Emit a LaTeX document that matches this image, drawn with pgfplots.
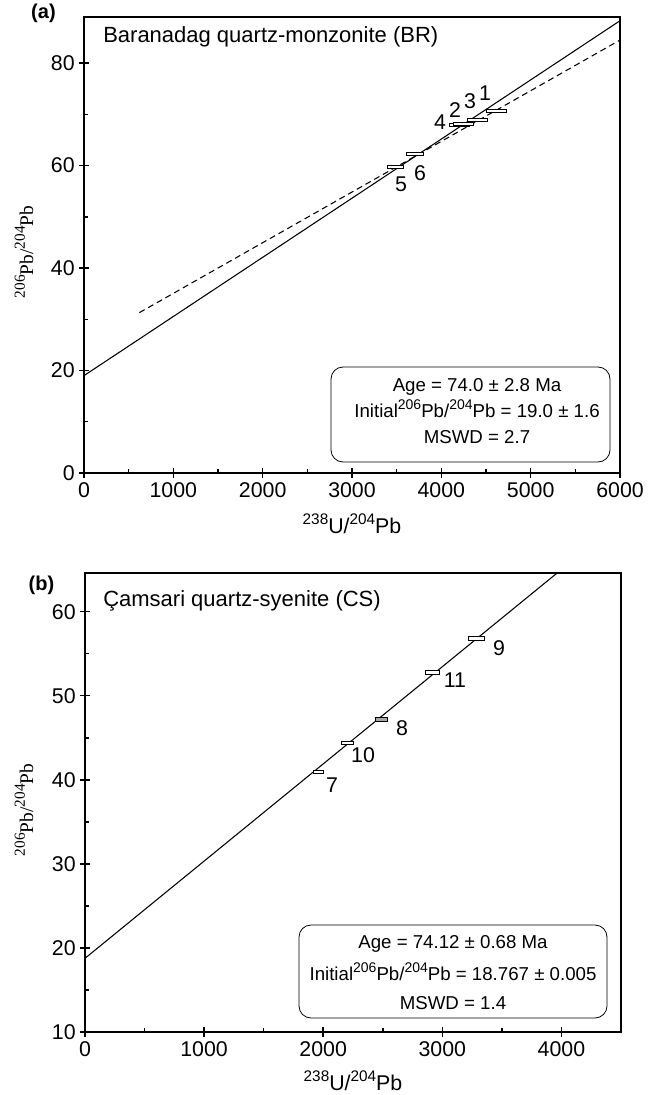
\documentclass[border=0pt]{standalone}
\usepackage{fontspec}
\setmainfont{Liberation Sans}
\newfontfamily\seriffont{Liberation Serif}
\usepackage{pgfplots}
\pgfplotsset{compat=1.18}
\tikzset{numlab/.style={font=\fontsize{16}{18}\selectfont, inner sep=0pt}}
\newcommand\sups[2]{\raisebox{0.42em}{\fontsize{#1}{#1}\selectfont #2}}
\begin{document}
\begin{tikzpicture}
\useasboundingbox (0,0) rectangle (485.25pt,-821.25pt);
\pgfplotsset{
  myaxis/.style={
    scale only axis,
    anchor=north west,
    axis line style={line width=1.5pt},
    every tick/.style={line width=1.1pt, black},
    major tick length=7pt,
    minor tick length=3pt,
    tick align=center,
    minor x tick style={yshift=1.5pt},
    minor y tick style={xshift=1.5pt},
    xtick pos=bottom, ytick pos=left,
    /pgf/number format/assume math mode=true,
    /pgf/number format/1000 sep={},
    ticklabel style={font=\fontsize{16}{18}\selectfont},
  },
  dbox/.style={draw=black, line width=0.5pt, fill=white, mark=none},
}
% ---------------- panel (a)
\begin{axis}[myaxis, at={(63pt,-12.75pt)}, width=402pt, height=342pt,
  xmin=0, xmax=6000, ymin=0, ymax=89,
  xtick={0,1000,...,6000}, ytick={0,20,...,80},
  minor x tick num=1, minor y tick num=1]
\addplot[line width=0.8pt, mark=none] coordinates {(0,19.0) (6000,88.27)};
\addplot[line width=0.8pt, mark=none, dash pattern=on 4.5pt off 3pt] coordinates {(620,31.3) (6000,84.5)};
% error boxes
\addplot[dbox] coordinates {(3391,59.5) (3571,59.5) (3571,60.1) (3391,60.1)} --cycle;
\addplot[dbox] coordinates {(3605,62.05) (3795,62.05) (3795,62.65) (3605,62.65)} --cycle;
\addplot[dbox] coordinates {(4088,67.6) (4312,67.6) (4312,68.2) (4088,68.2)} --cycle;
\addplot[dbox] coordinates {(4138,67.9) (4362,67.9) (4362,68.5) (4138,68.5)} --cycle;
\addplot[dbox] coordinates {(4287,68.7) (4511,68.7) (4511,69.3) (4287,69.3)} --cycle;
\addplot[dbox] coordinates {(4500,70.4) (4724,70.4) (4724,71.0) (4500,71.0)} --cycle;
\node[numlab] at (axis cs:4489,74.2) {1};
\node[numlab] at (axis cs:4321,72.6) {3};
\node[numlab] at (axis cs:4153,70.8) {2};
\node[numlab] at (axis cs:3985,68.5) {4};
\node[numlab] at (axis cs:3761,58.5) {6};
\node[numlab] at (axis cs:3548,56.4) {5};
\end{axis}
% ---------------- panel (b)
\begin{axis}[myaxis, at={(63.75pt,-429.75pt)}, width=402pt, height=344.25pt,
  xmin=0, xmax=4500, ymin=10, ymax=64.6,
  xtick={0,1000,...,4000}, ytick={10,20,...,60},
  minor x tick num=1, minor y tick num=1]
\addplot[line width=0.8pt, mark=none] coordinates {(0,18.767) (4500,70.80)};
\addplot[dbox] coordinates {(1914,40.75) (1998,40.75) (1998,41.15) (1914,41.15)} --cycle;
\addplot[dbox] coordinates {(2150,44.2) (2250,44.2) (2250,44.6) (2150,44.6)} --cycle;
\addplot[dbox, fill=gray!70] coordinates {(2435,47.0) (2535,47.0) (2535,47.4) (2435,47.4)} --cycle;
\addplot[dbox] coordinates {(2854,52.6) (2972,52.6) (2972,53.0) (2854,53.0)} --cycle;
\addplot[dbox] coordinates {(3216,56.65) (3350,56.65) (3350,57.05) (3216,57.05)} --cycle;
\node[numlab] at (axis cs:3476,55.7) {9};
\node[numlab] at (axis cs:3106,51.9) {11};
\node[numlab] at (axis cs:2661,46.2) {8};
\node[numlab] at (axis cs:2334,42.9) {10};
\node[numlab] at (axis cs:2074,39.4) {7};
\end{axis}
% ---------------- texts and boxes
\node[font=\bfseries\fontsize{15}{17}\selectfont, inner sep=0pt] at (32.6pt,-10.1pt) {(a)};
\node[font=\bfseries\fontsize{15}{17}\selectfont, inner sep=0pt] at (31.1pt,-438.75pt) {(b)};
\node[anchor=base west, font=\fontsize{16.5}{18}\selectfont, inner sep=0pt] at (77.25pt,-32.25pt) {Baranadag quartz-monzonite (BR)};
\node[anchor=base west, font=\fontsize{16.5}{18}\selectfont, inner sep=0pt] at (77.25pt,-455pt) {Çamsari quartz-syenite (CS)};
\node[rotate=90, anchor=base, inner sep=0pt, font=\seriffont\fontsize{14.5}{17}\selectfont] at (24.75pt,-189pt) {\sups{11.5}{206}Pb/\sups{11.5}{204}Pb};
\node[rotate=90, anchor=base, inner sep=0pt, font=\seriffont\fontsize{14.5}{17}\selectfont] at (24.75pt,-607.5pt) {\sups{11.5}{206}Pb/\sups{11.5}{204}Pb};
\node[anchor=base, inner sep=0pt, font=\fontsize{16}{18}\selectfont] at (264pt,-400pt) {\sups{11.5}{238}U/\sups{11.5}{204}Pb};
\node[anchor=base, inner sep=0pt, font=\fontsize{16}{18}\selectfont] at (264.75pt,-817.5pt) {\sups{11.5}{238}U/\sups{11.5}{204}Pb};
% legend (a)
\draw[line width=0.6pt, rounded corners=9pt] (248.25pt,-275.25pt) rectangle (457.5pt,-346.5pt);
\begin{scope}[every node/.style={anchor=base, font=\fontsize{14}{16}\selectfont, inner sep=0pt}]
\node at (357.75pt,-293.25pt) {Age = 74.0 ± 2.8 Ma};
\node at (357.75pt,-312.75pt) {Initial\sups{10.5}{206}Pb/\sups{10.5}{204}Pb = 19.0 ± 1.6};
\node at (357.75pt,-332.25pt) {MSWD = 2.7};
\end{scope}
% legend (b)
\draw[line width=0.6pt, rounded corners=9pt] (224.25pt,-693.75pt) rectangle (455.25pt,-763.5pt);
\begin{scope}[every node/.style={anchor=base, font=\fontsize{14}{16}\selectfont, inner sep=0pt}]
\node at (339.75pt,-711.2pt) {Age = 74.12 ± 0.68 Ma};
\node at (339.75pt,-735pt) {Initial\sups{10.5}{206}Pb/\sups{10.5}{204}Pb = 18.767 ± 0.005};
\node at (339.75pt,-757pt) {MSWD = 1.4};
\end{scope}
\end{tikzpicture}
\end{document}
